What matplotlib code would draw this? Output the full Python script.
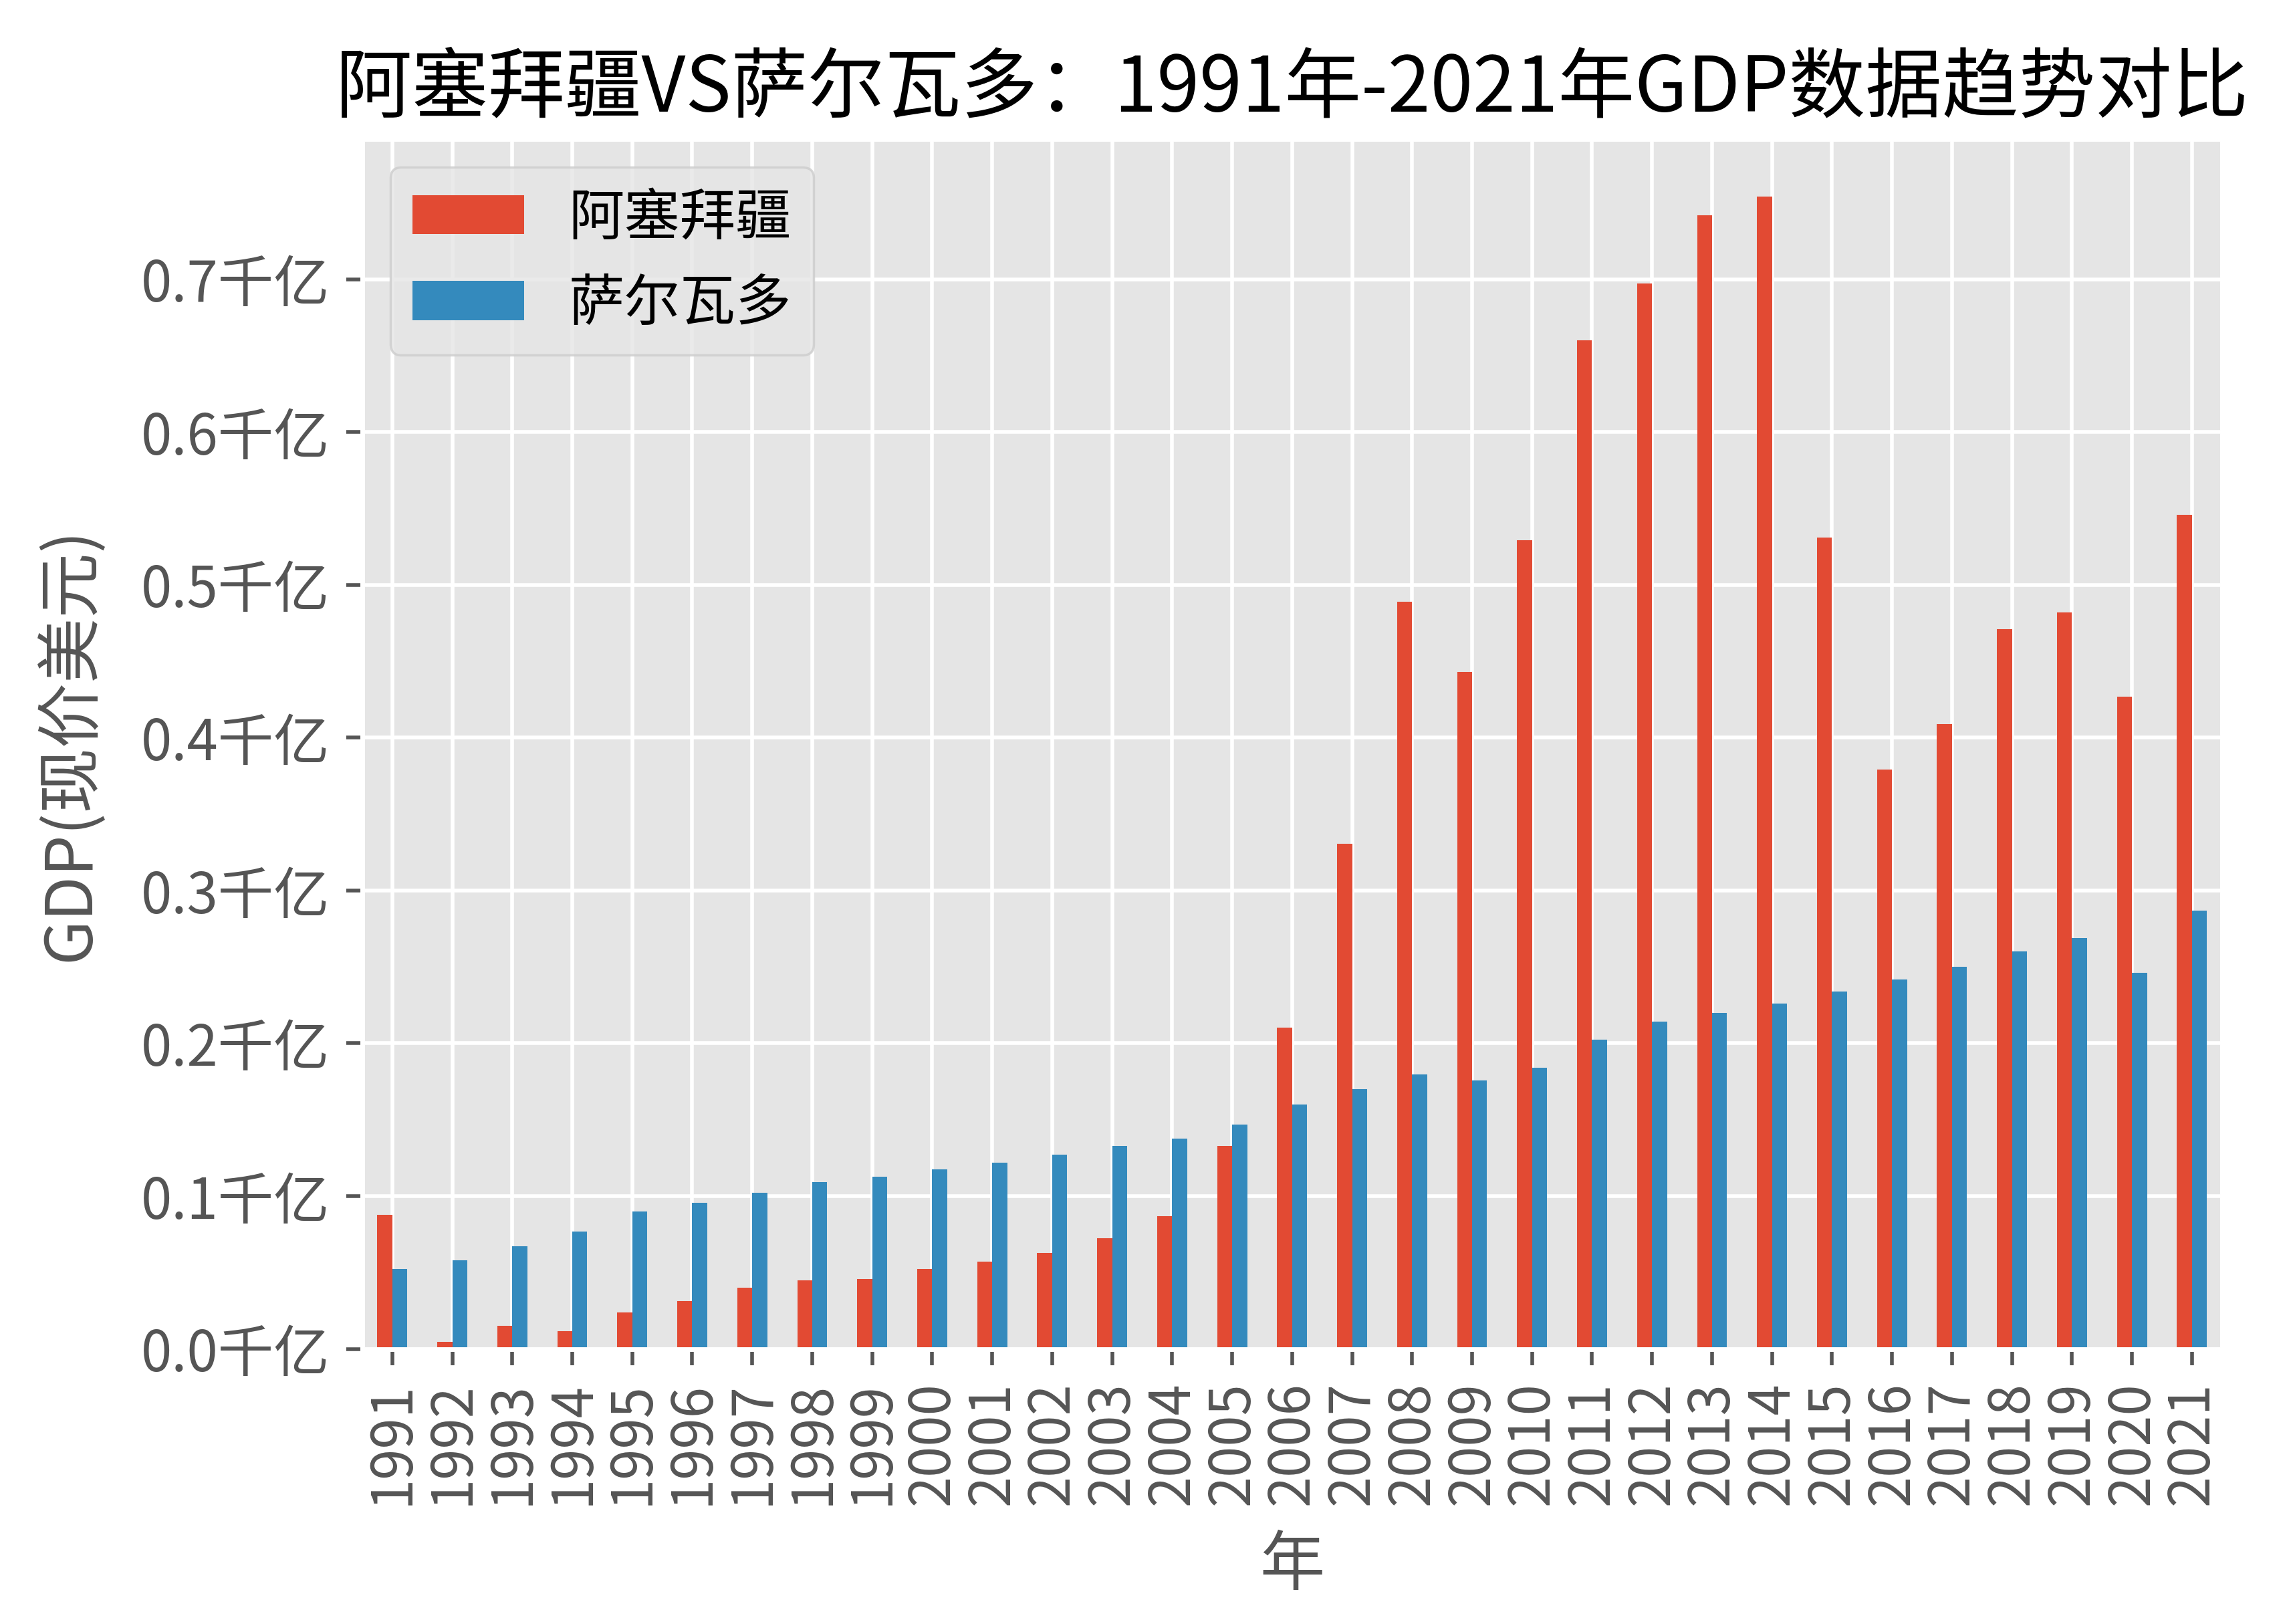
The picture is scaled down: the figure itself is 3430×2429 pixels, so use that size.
import matplotlib
matplotlib.use("Agg")
import matplotlib.pyplot as plt
import numpy as np
from matplotlib.ticker import FuncFormatter

plt.style.use("ggplot")
plt.rcParams["font.family"] = ["Noto Sans CJK SC", "DejaVu Sans"]
plt.rcParams["axes.unicode_minus"] = False

years = list(range(1991, 2022))
azerbaijan = [0.0879, 0.0048, 0.0153, 0.0115, 0.0239, 0.0315, 0.0401, 0.0449, 0.0458, 0.0525,
              0.0573, 0.0630, 0.0726, 0.0869, 0.1328, 0.2101, 0.3305, 0.4890, 0.4430, 0.5290,
              0.6600, 0.6970, 0.7420, 0.7540, 0.5310, 0.3790, 0.4090, 0.4710, 0.4820, 0.4270,
              0.5460]
el_salvador = [0.0525, 0.0580, 0.0670, 0.0770, 0.0898, 0.0955, 0.1020, 0.1090, 0.1127, 0.1175,
               0.1220, 0.1270, 0.1330, 0.1375, 0.1470, 0.1600, 0.1700, 0.1796, 0.1757, 0.1840,
               0.2025, 0.2140, 0.2197, 0.2260, 0.2340, 0.2416, 0.2500, 0.2600, 0.2690, 0.2460,
               0.2870]
series_names = ["阿塞拜疆", "萨尔瓦多"]
colors = ["#E24A33", "#348ABD"]

fig = plt.figure(figsize=(6.86, 4.858), dpi=500)
ax = fig.add_axes([0.158, 0.1694, 0.969 - 0.158, 0.9144 - 0.1694])

x = np.arange(len(years))
w = 0.25
ax.bar(x - w / 2, azerbaijan, width=w, color=colors[0], label=series_names[0])
ax.bar(x + w / 2, el_salvador, width=w, color=colors[1], label=series_names[1])

ax.set_xlim(-0.5, len(years) - 0.5)
ax.set_xticks(x)
ax.set_xticklabels([str(y) for y in years], rotation=90, fontsize=12)
ax.yaxis.set_major_formatter(FuncFormatter(lambda v, p: f"{v:.1f}千亿"))
ax.tick_params(axis="y", labelsize=12)

ax.set_xlabel("年", fontsize=14, labelpad=6)
ax.set_ylabel("GDP(现价美元)", fontsize=14, labelpad=8)
ax.set_title("阿塞拜疆VS萨尔瓦多：1991年-2021年GDP数据趋势对比", fontsize=16.5)
ax.legend(loc="upper left", fontsize=12)

fig.savefig("out.png", dpi=500)
